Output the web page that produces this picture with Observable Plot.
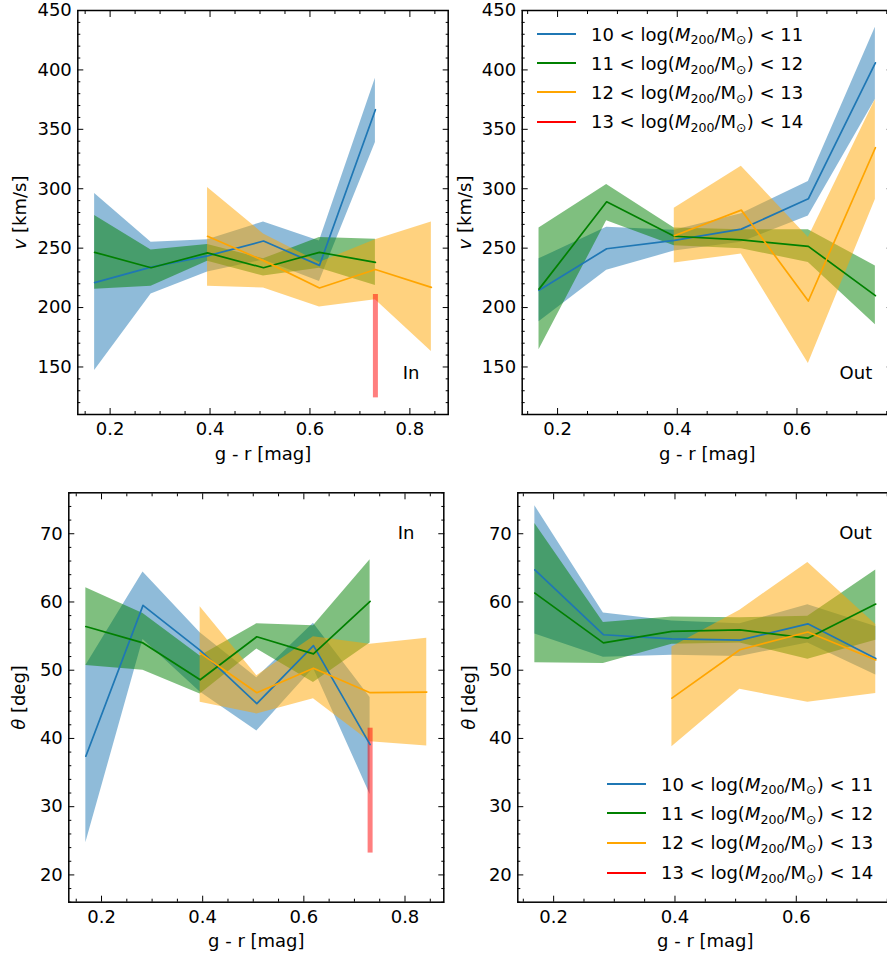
<!DOCTYPE html>
<html><head><meta charset="utf-8">
<script src="https://cdn.jsdelivr.net/npm/d3@7"></script>
<script src="https://cdn.jsdelivr.net/npm/@observablehq/plot@0.6"></script>
<style>
html,body{margin:0;padding:0;background:#fff;overflow:hidden;}
#wrap{position:relative;width:887px;height:958px;overflow:hidden;font-family:"DejaVu Sans",sans-serif;background:#fff;}
.panel{position:absolute;}
.legend-row{position:absolute;height:29px;display:flex;align-items:center;white-space:nowrap;font-size:18px;color:#000;font-family:"DejaVu Sans",sans-serif;}
.swatch{width:38.4px;height:2px;margin-right:15.3px;flex:none;}
.sub{font-size:0.7em;position:relative;top:0.3em;}
</style></head><body><div id="wrap"></div>
<script>
// ---------------- data ----------------
const grColor = [0.169, 0.282, 0.395, 0.507, 0.619, 0.731, 0.843];
const massLo = [10, 11, 12, 13];
const massHi = [11, 12, 13, 14];
const seriesColors = ["#1f77b4", "#008000", "#ffa500", "#ff0000"];

// velocity, In
const vInBlueMean = [221, 234, 243.5, 256, 235.5, 366.5];
const vInBlueLo   = [147, 211.5, 230, 240, 222, 339];
const vInBlueHi   = [296, 255, 257, 272, 256, 393];
const vInGreenMean = [246.5, 233.5, 246, 233.5, 246.5, 238];
const vInGreenLo   = [215.5, 218, 239, 226.5, 233, 218.5];
const vInGreenHi   = [277.5, 248.5, 253, 241, 259, 257.5];
const vInOrangeMean = [260, 239.5, 216.5, 232, 217];
const vInOrangeLo   = [218, 216.5, 200.5, 206.5, 163];
const vInOrangeHi   = [301, 262, 238, 257, 272];
const vInRedLo = [124];
const vInRedHi = [211];

// velocity, Out
const vOutBlueMean = [214.5, 249.5, 256.5, 266, 291.5, 406];
const vOutBlueLo   = [188, 231.5, 247.5, 255, 277, 375];
const vOutBlueHi   = [241, 267.5, 265, 279, 306, 436];
const vOutGreenMean = [215.5, 289, 260, 257, 251.5, 210];
const vOutGreenLo   = [164.5, 273, 252, 249.5, 238, 185.5];
const vOutGreenHi   = [267, 303.5, 267, 265.5, 265.5, 235];
const vOutOrangeMean = [260.5, 282, 205.5, 334.5];
const vOutOrangeLo   = [237.5, 245, 153, 291];
const vOutOrangeHi   = [283.5, 319, 259, 375];

// angle, In
const tInBlueMean = [37.4, 59.5, 52.9, 45.1, 53.6, 39.1];
const tInBlueLo   = [24.7, 54.5, 46.8, 41.1, 50.3, 31.8];
const tInBlueHi   = [50.7, 64.4, 55.5, 48.9, 56.9, 46.0];
const tInGreenMean = [56.4, 54.0, 48.6, 54.9, 52.4, 60.1];
const tInGreenLo   = [50.7, 50.0, 46.5, 53.1, 48.2, 54.0];
const tInGreenHi   = [62.1, 58.3, 52.1, 56.8, 56.5, 66.2];
const tInOrangeMean = [52.5, 46.7, 50.3, 46.7, 46.8];
const tInOrangeLo   = [45.3, 43.6, 45.8, 39.5, 38.9];
const tInOrangeHi   = [59.3, 49.2, 54.9, 53.8, 54.7];
const tInRedLo = [23.2];
const tInRedHi = [41.5];

// angle, Out
const tOutBlueMean = [64.7, 55.2, 54.6, 54.4, 56.8, 51.7];
const tOutBlueLo   = [55.3, 51.9, 52.2, 52.0, 54.0, 49.3];
const tOutBlueHi   = [74.1, 58.4, 57.2, 56.8, 59.6, 56.4];
const tOutGreenMean = [61.3, 54.0, 55.7, 55.9, 54.7, 59.7];
const tOutGreenLo   = [51.1, 51.0, 53.8, 54.0, 51.6, 54.4];
const tOutGreenHi   = [71.5, 57.0, 57.8, 57.7, 57.9, 64.7];
const tOutOrangeMean = [45.9, 53.0, 55.6, 51.5];
const tOutOrangeLo   = [38.8, 47.2, 45.3, 46.6];
const tOutOrangeHi   = [53.4, 58.8, 65.8, 56.7];

// ticks
const xMajor = [0.2, 0.4, 0.6, 0.8];
const xMinor = [0.15, 0.25, 0.3, 0.35, 0.45, 0.5, 0.55, 0.65, 0.7, 0.75, 0.85];
const vMajor = [150, 200, 250, 300, 350, 400, 450];
const vMinor = [110, 120, 130, 140, 160, 170, 180, 190, 210, 220, 230, 240, 260, 270, 280, 290, 310, 320, 330, 340, 360, 370, 380, 390, 410, 420, 430, 440];
const tMajor = [20, 30, 40, 50, 60, 70];
const tMinor = [16, 18, 22, 24, 26, 28, 32, 34, 36, 38, 42, 44, 46, 48, 52, 54, 56, 58, 62, 64, 66, 68, 72, 74, 76];

const xLabel = "g - r [mag]";
const vLabel = "v [km/s]";
const tLabel = "θ [deg]";

// ---------------- helpers ----------------
function rows(start, mean, lo, hi) {
  return mean.map((m, i) => ({x: grColor[start + i], m, lo: lo[i], hi: hi[i]}));
}
function inDom(arr, dom) { return arr.filter(v => v >= dom[0] - 1e-9 && v <= dom[1] + 1e-9); }

function makePanel(cfg) {
  const {series, red, xDomain, yDomain, yMaj, yMin, width, height, m, ylabel, ylabelDx, tag, tagAnchor, tagDx, tagDy} = cfg;
  const xMa = inDom(xMajor, xDomain), xMi = inDom(xMinor, xDomain);
  const yMa = inDom(yMaj, yDomain), yMi = inDom(yMin, yDomain);
  const marks = [];
  series.forEach(s => marks.push(Plot.areaY(s.rows, {x: "x", y1: "lo", y2: "hi", fill: s.color, fillOpacity: 0.5})));
  if (red) marks.push(Plot.ruleX(red, {x: "x", y1: "lo", y2: "hi", stroke: seriesColors[3], strokeOpacity: 0.5, strokeWidth: 5}));
  series.forEach(s => marks.push(Plot.lineY(s.rows, {x: "x", y: "m", stroke: s.color, strokeWidth: 1.7})));
  // inward ticks on all four sides
  const tk = {fill: "none", label: null, stroke: "black", strokeWidth: 1};
  marks.push(
    Plot.axisX({...tk, ticks: xMa, anchor: "bottom", tickSize: 6, dy: -6}),
    Plot.axisX({...tk, ticks: xMi, anchor: "bottom", tickSize: 3, dy: -3}),
    Plot.axisX({...tk, ticks: xMa, anchor: "top", tickSize: 6, dy: 6}),
    Plot.axisX({...tk, ticks: xMi, anchor: "top", tickSize: 3, dy: 3}),
    Plot.axisY({...tk, ticks: yMa, anchor: "left", tickSize: 6, dx: 6}),
    Plot.axisY({...tk, ticks: yMi, anchor: "left", tickSize: 3, dx: 3}),
    Plot.axisY({...tk, ticks: yMa, anchor: "right", tickSize: 6, dx: -6}),
    Plot.axisY({...tk, ticks: yMi, anchor: "right", tickSize: 3, dx: -3}),
    Plot.axisX({ticks: xMa, anchor: "bottom", tickSize: 0, tickPadding: 8, tickFormat: d3.format(".1f"), label: null, fill: "black"}),
    Plot.axisY({ticks: yMa, anchor: "left", tickSize: 0, tickPadding: 6, tickFormat: d3.format("d"), label: null, fill: "black"}),
    Plot.frame({stroke: "black", strokeWidth: 1.5}),
    Plot.text([xLabel], {frameAnchor: "bottom", dy: 39.3, fontSize: 18, fill: "black", textAnchor: "middle", lineAnchor: "middle"}),
    Plot.text([ylabel], {frameAnchor: "left", dx: ylabelDx, rotate: -90, fontSize: 18, fill: "black", textAnchor: "middle", lineAnchor: "middle"}),
    Plot.text([tag], {frameAnchor: tagAnchor, dx: tagDx, dy: tagDy, fontSize: 18, fill: "black", textAnchor: "middle", lineAnchor: "middle"})
  );
  const svg = Plot.plot({
    width, height,
    marginLeft: m[0], marginRight: m[1], marginTop: m[2], marginBottom: m[3],
    x: {domain: xDomain, label: null},
    y: {domain: yDomain, label: null},
    style: {background: "transparent", maxWidth: "none", overflow: "visible", fontFamily: "DejaVu Sans", fontSize: "18px", color: "black"},
    marks
  });
  // italic symbol in y label
  svg.querySelectorAll("text").forEach(t => {
    if (t.textContent === ylabel) {
      const sym = ylabel[0], rest = ylabel.slice(1);
      t.textContent = "";
      const ns = "http://www.w3.org/2000/svg";
      const a = document.createElementNS(ns, "tspan"); a.setAttribute("font-style", "italic"); a.textContent = sym;
      const b = document.createElementNS(ns, "tspan"); b.textContent = rest;
      t.appendChild(a); t.appendChild(b);
    }
  });
  return svg;
}

const wrap = document.getElementById("wrap");
function place(svg, left, top) {
  const d = document.createElement("div");
  d.className = "panel"; d.style.left = left + "px"; d.style.top = top + "px";
  d.appendChild(svg); wrap.appendChild(d);
}

const xDomIn = [0.1353, 0.8767];
const xDomOut = [0.1409, 0.7591];
const vDom = [110, 450];
const tDom = [16, 76];

place(makePanel({
  series: [
    {rows: rows(0, vInBlueMean, vInBlueLo, vInBlueHi), color: seriesColors[0]},
    {rows: rows(0, vInGreenMean, vInGreenLo, vInGreenHi), color: seriesColors[1]},
    {rows: rows(2, vInOrangeMean, vInOrangeLo, vInOrangeHi), color: seriesColors[2]}
  ],
  red: [{x: grColor[5], lo: vInRedLo[0], hi: vInRedHi[0]}],
  xDomain: xDomIn, yDomain: vDom, yMaj: vMajor, yMin: vMinor,
  width: 460, height: 470, m: [77.3, 12.3, 10, 56],
  ylabel: vLabel, ylabelDx: -57.3, tag: "In", tagAnchor: "bottom-right", tagDx: -37.2, tagDy: -41.3
}), 0, 0);

place(makePanel({
  series: [
    {rows: rows(0, vOutBlueMean, vOutBlueLo, vOutBlueHi), color: seriesColors[0]},
    {rows: rows(0, vOutGreenMean, vOutGreenLo, vOutGreenHi), color: seriesColors[1]},
    {rows: rows(2, vOutOrangeMean, vOutOrangeLo, vOutOrangeHi), color: seriesColors[2]}
  ],
  red: null,
  xDomain: xDomOut, yDomain: vDom, yMaj: vMajor, yMin: vMinor,
  width: 460, height: 470, m: [81.7, 8.3, 10, 56],
  ylabel: vLabel, ylabelDx: -56.7, tag: "Out", tagAnchor: "bottom-right", tagDx: -36.3, tagDy: -41.3
}), 440, 0);

place(makePanel({
  series: [
    {rows: rows(0, tInBlueMean, tInBlueLo, tInBlueHi), color: seriesColors[0]},
    {rows: rows(0, tInGreenMean, tInGreenLo, tInGreenHi), color: seriesColors[1]},
    {rows: rows(2, tInOrangeMean, tInOrangeLo, tInOrangeHi), color: seriesColors[2]}
  ],
  red: [{x: grColor[5], lo: tInRedLo[0], hi: tInRedHi[0]}],
  xDomain: xDomIn, yDomain: tDom, yMaj: tMajor, yMin: tMinor,
  width: 460, height: 478, m: [68.3, 16.7, 12.3, 56.3],
  ylabel: tLabel, ylabelDx: -49.3, tag: "In", tagAnchor: "top-right", tagDx: -37.8, tagDy: 40
}), 0, 480);

place(makePanel({
  series: [
    {rows: rows(0, tOutBlueMean, tOutBlueLo, tOutBlueHi), color: seriesColors[0]},
    {rows: rows(0, tOutGreenMean, tOutGreenLo, tOutGreenHi), color: seriesColors[1]},
    {rows: rows(2, tOutOrangeMean, tOutOrangeLo, tOutOrangeHi), color: seriesColors[2]}
  ],
  red: null,
  xDomain: xDomOut, yDomain: tDom, yMaj: tMajor, yMin: tMinor,
  width: 460, height: 478, m: [77.3, 7.7, 12.3, 56.3],
  ylabel: tLabel, ylabelDx: -49, tag: "Out", tagAnchor: "top-right", tagDx: -37.3, tagDy: 40
}), 440, 480);

// legends (HTML, rich text)
function legend(left, rowYs) {
  massLo.forEach((lo, i) => {
    const r = document.createElement("div");
    r.className = "legend-row";
    r.style.left = left + "px";
    r.style.top = (rowYs[i] - 14.5) + "px";
    r.innerHTML = `<span class="swatch" style="background:${seriesColors[i]}"></span>` +
      `<span>${lo} &lt; log(<i>M</i><span class="sub">200</span>/M<span class="sub">⊙</span>) &lt; ${massHi[i]}</span>`;
    wrap.appendChild(r);
  });
}
legend(537.3, [34, 63.3, 92.3, 121.7]);
legend(607.3, [784, 813.3, 842.7, 872.7]);
</script></body></html>
